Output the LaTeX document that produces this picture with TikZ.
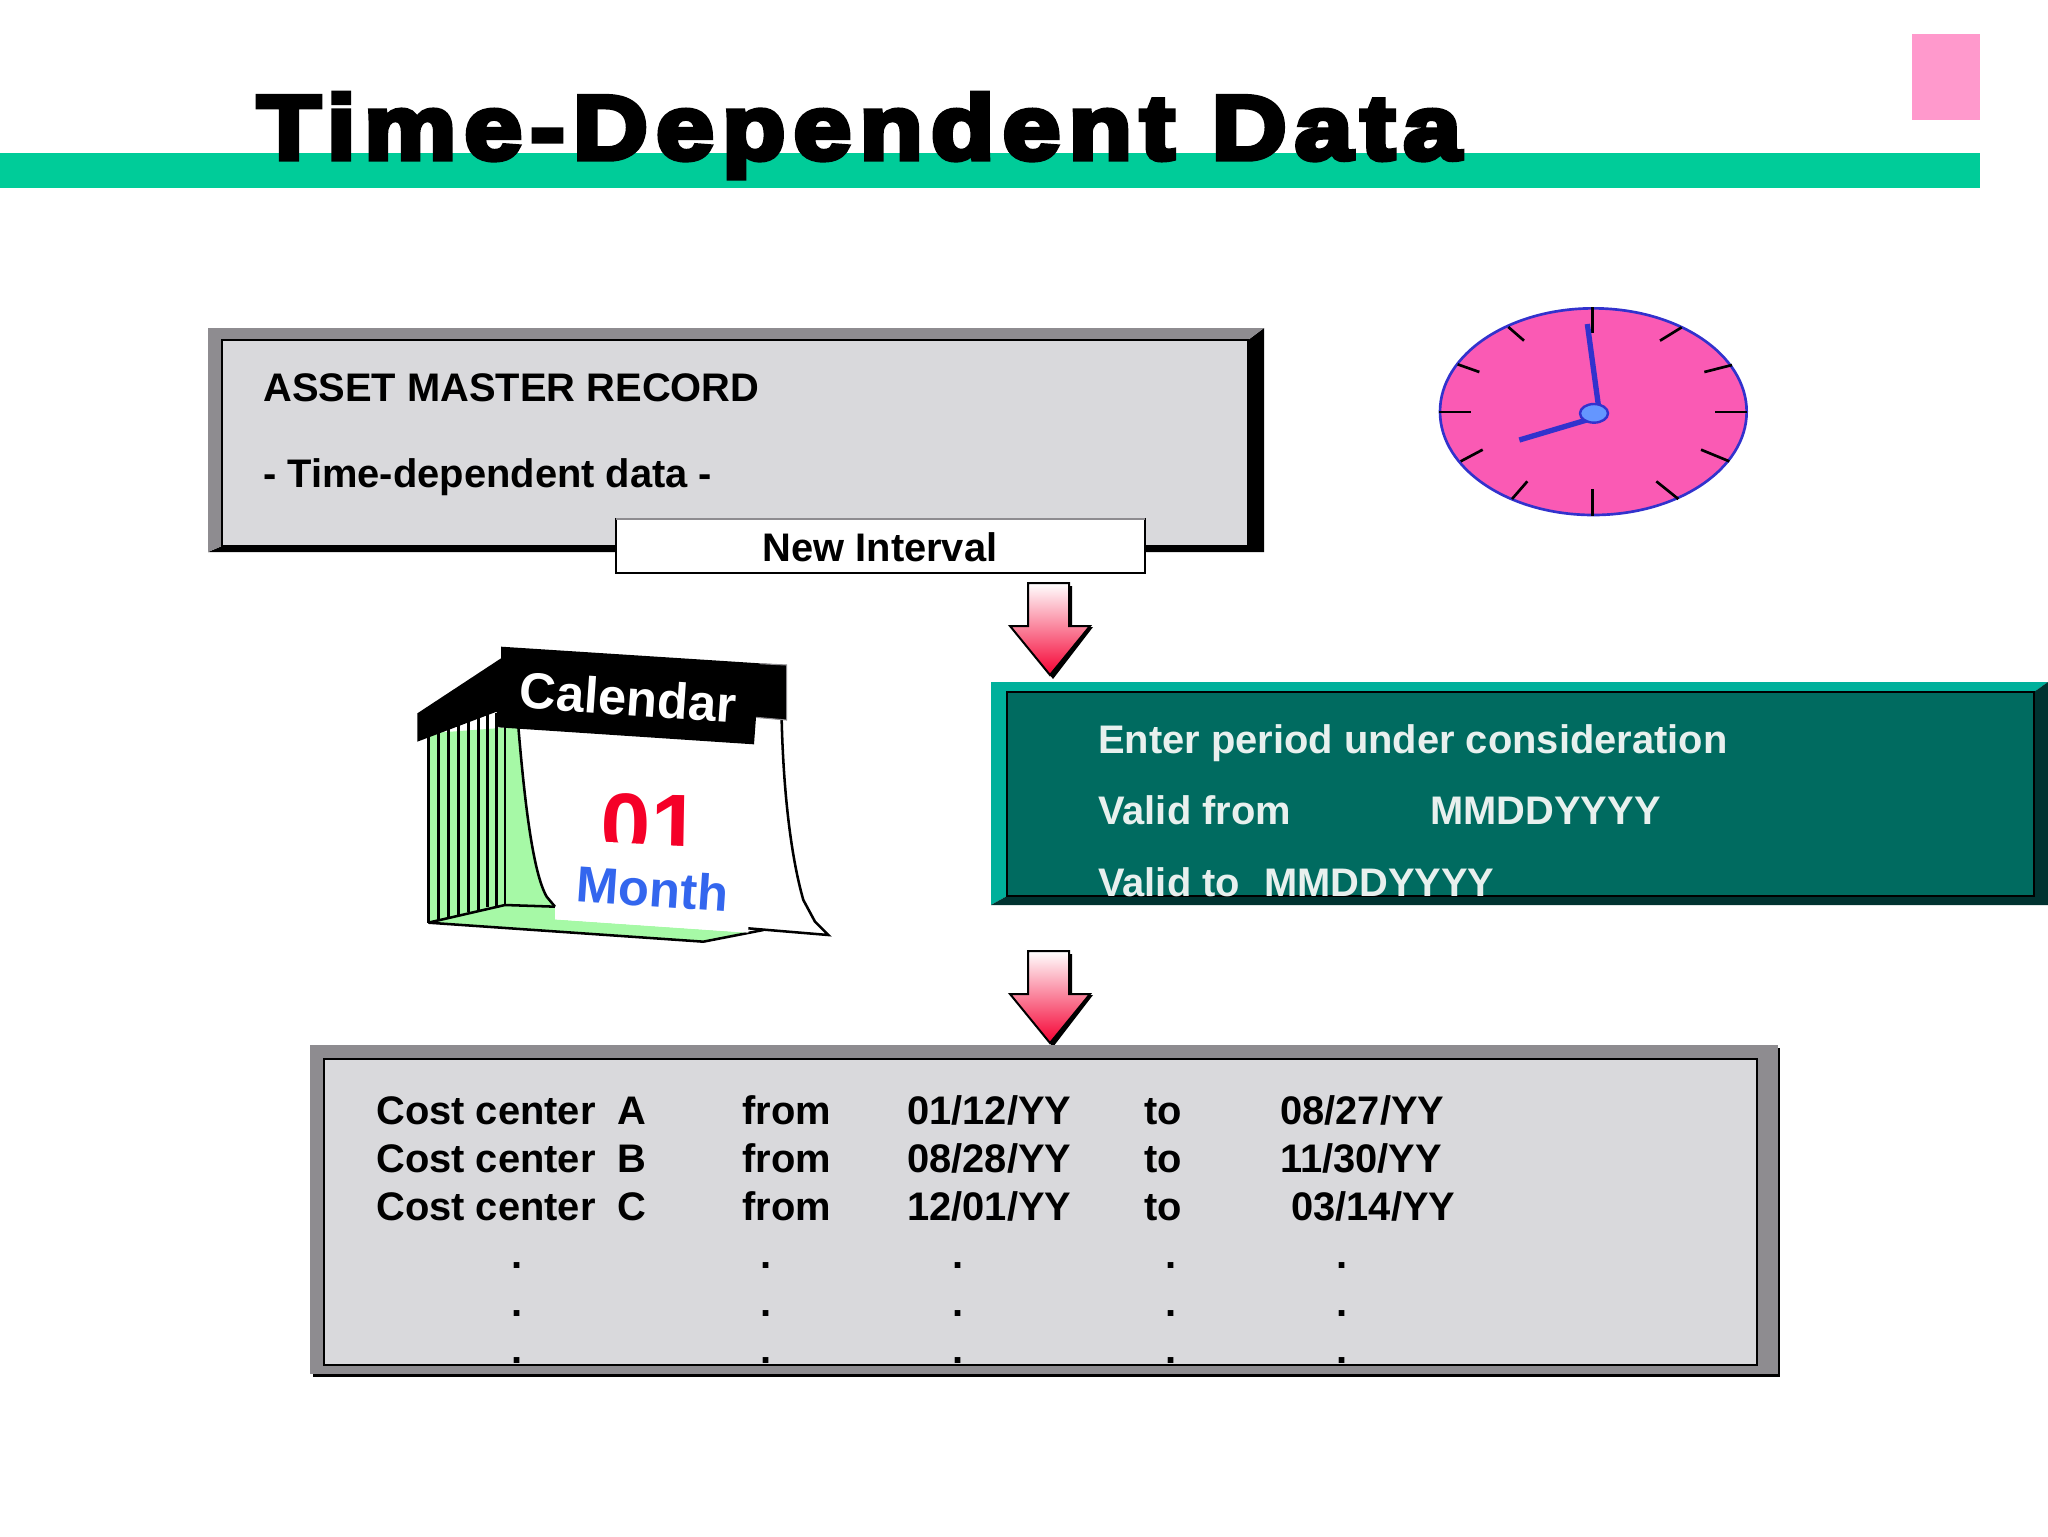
\documentclass[tikz,border=0pt]{standalone}
\usepackage{fontspec}
\setmainfont{Liberation Sans}
\newfontfamily\titlefont[FakeBold=6,FakeStretch=1.145,LetterSpace=9]{Liberation Sans Bold}
\definecolor{barGreen}{RGB}{0,204,153}
\definecolor{tabPink}{RGB}{255,153,204}
\definecolor{panelGray}{RGB}{217,217,220}
\definecolor{frameGray}{RGB}{142,140,144}
\definecolor{tealLight}{RGB}{0,176,155}
\definecolor{tealDark}{RGB}{0,107,96}
\definecolor{tealShade}{RGB}{0,50,48}
\definecolor{tealText}{RGB}{232,240,238}
\definecolor{clockPink}{RGB}{250,90,180}
\definecolor{clockBlue}{RGB}{50,50,205}
\definecolor{hubBlue}{RGB}{100,150,255}
\definecolor{pageGreen}{RGB}{166,249,166}
\definecolor{monthBlue}{RGB}{51,102,238}
\definecolor{dayRed}{RGB}{245,0,40}
\definecolor{arrowRed}{RGB}{245,0,50}
\tikzset{
  label30/.style={anchor=base west,inner sep=0pt,font=\fontsize{29.9}{36}\selectfont\bfseries},
  dotmark/.style={anchor=base,inner sep=0pt,font=\fontsize{30}{36}\selectfont\bfseries},
  tealLabel/.style={label30,text=tealText},
  tick/.style={line width=2pt,line cap=butt},
  edge/.style={line width=1.9pt},
}
\begin{document}
\begin{tikzpicture}[x=0.75pt,y=0.75pt,yscale=-1,xscale=1]
        \useasboundingbox (0,0) rectangle (2048,1536);
        %Shape: Title bar
        \fill [barGreen] (0,153) rectangle (1980,188);
        \fill [tabPink] (1912,34) rectangle (1980,120);
        % Text Node
        \draw (257,159) node (titleText) [anchor=base west,inner sep=0pt,font=\titlefont\fontsize{68}{80}\selectfont]  {Time-Dependent Data};

        %Shape: Asset master record
        \fill [black] (208,552) -- (1264,552) -- (1264,328) -- (1248,340) -- (222,546) -- cycle;
        \fill [frameGray] (208,552) -- (208,328) -- (1264,328) -- (1248,340) -- (222,340) -- (222,546) -- cycle;
        \draw [fill=panelGray,edge] (222,340) rectangle (1248,546);
        % Text Node
        \draw (263,401) node (assetText) [label30]  {ASSET MASTER RECORD};
        % Text Node
        \draw (263,487) node (timeText) [label30]  {- Time-dependent data -};
        %Shape: New interval
        \draw [fill=white,edge] (616,519) rectangle (1145,573);
        \draw [frameGray,line width=1pt] (616,519) -- (1145,519);
        % Text Node
        \draw (880,561) node (intervalText) [label30,anchor=base]  {New Interval};

        %Shape: Arrows
        \foreach \dy in {0,368} {
          \fill [black] (1031,586+\dy) -- (1072,586+\dy) -- (1072,627+\dy) -- (1093,627+\dy) -- (1053,679+\dy) -- (1013,629+\dy) -- (1031,629+\dy) -- cycle;
          \shade [top color=white,bottom color=arrowRed,draw=black,line width=1.5pt] (1028,583+\dy) -- (1069,583+\dy) -- (1069,626+\dy) -- (1090,626+\dy) -- (1050,675+\dy) -- (1010,626+\dy) -- (1028,626+\dy) -- cycle;
        }

        %Shape: Enter period
        \fill [tealLight] (991,682) -- (2048,682) -- (2034,692) -- (1007,692) -- (1007,896) -- (991,905) -- cycle;
        \fill [tealShade] (991,905) -- (2048,905) -- (2048,682) -- (2034,692) -- (2034,896) -- (1007,896) -- cycle;
        \draw [fill=tealDark,edge] (1007,692) rectangle (2034,896);
        % Text Node
        \draw (1098,753) node (enterText) [tealLabel]  {Enter period under consideration};
        % Text Node
        \draw (1098,824) node (fromText) [tealLabel]  {Valid from};
        % Text Node
        \draw (1430,824) node (fromValue) [tealLabel]  {MMDDYYYY};
        % Text Node
        \draw (1098,896) node (toText) [tealLabel]  {Valid to\ \ \hspace{1.5pt}MMDDYYYY};

        %Shape: Cost centers
        \fill [black] (313,1048) rectangle (1780,1377);
        \fill [frameGray] (310,1045) rectangle (1778,1374);
        \draw [fill=panelGray,edge] (324,1059) rectangle (1757,1365);
        \foreach \rowy/\rowname/\fromdate/\todate/\tox in {1124/A/01\slash 12\slash YY/08\slash 27\slash YY/1280,1172/B/08\slash 28\slash YY/11\slash 30\slash YY/1280,1220/C/12\slash 01\slash YY/03\slash 14\slash YY/1291} {
          % Text Node
          \draw (376,\rowy) node (cost\rowname) [label30]  {Cost center\ \ \rowname};
          \draw (742,\rowy) node (from\rowname) [label30]  {from};
          \draw (907,\rowy) node (start\rowname) [label30]  {\fromdate};
          \draw (1144,\rowy) node (to\rowname) [label30]  {to};
          \draw (\tox,\rowy) node (end\rowname) [label30]  {\todate};
        }
        \foreach \colx in {517,766,958,1171,1342} {
          \foreach \rowy in {1268,1316,1363} {
            \draw (\colx,\rowy) node (dot\colx\rowy) [dotmark]  {.};
          }
        }

        %Shape: Clock
        \begin{scope}[shift={(1420,290)},scale=1/3]
          \draw [fill=clockPink,draw=clockBlue,line width=2pt] (520,365) ellipse [x radius=460,y radius=310];
          \draw [tick] (517,52) -- (517,130);
          \draw [tick] (785,112) -- (720,152);
          \draw [tick] (936,225) -- (853,246);
          \draw [tick] (982,366) -- (886,366);
          \draw [tick] (928,514) -- (843,479);
          \draw [tick] (775,627) -- (709,574);
          \draw [tick] (517,677) -- (517,598);
          \draw [tick] (276,627) -- (322,574);
          \draw [tick] (122,514) -- (188,479);
          \draw [tick] (58,366) -- (153,366);
          \draw [tick] (113,223) -- (178,246);
          \draw [tick] (265,111) -- (312,152);
          \draw [clockBlue,line width=4pt] (502,102) -- (535,345);
          \draw [clockBlue,line width=4pt] (298,450) -- (500,390);
          \draw [fill=hubBlue,draw=clockBlue,line width=1.8pt] (522,370) ellipse [x radius=42,y radius=28];
        \end{scope}

        %Shape: Calendar
        \begin{scope}[shift={(400,620)},scale=1/3]
          \fill [pageGreen] (85,340) -- (355,320) .. controls (375,560) and (410,760) .. (465,860) -- (465,898) -- (1045,938) -- (1090,930) -- (910,965) -- (85,908) -- cycle;
          \foreach \linex/\liney in {85/908,115/900,145/893,175/886,205/877,235/870,262/862,290/857,315/855} {
            \draw [edge] (\linex,\liney) -- (\linex,280);
          }
          \draw [edge] (85,908) -- (315,855) -- (465,860);
          \draw [edge] (85,908) -- (910,965) -- (1090,930);
          \draw [fill=white,draw=none] (355,320) .. controls (375,560) and (400,760) .. (440,830) -- (465,860) -- (465,898) -- (1045,938) -- (1045,922) -- (1285,945) -- (1245,905) -- (1210,840) .. controls (1170,700) and (1150,500) .. (1145,300) -- cycle;
          \draw [edge] (355,320) .. controls (375,560) and (400,760) .. (440,830) -- (465,860);
          \draw [edge] (1045,925) -- (1285,945) -- (1245,905) -- (1210,840) .. controls (1170,700) and (1150,500) .. (1145,300);
          \fill [black] (303,80) -- (1080,130) -- (1160,135) -- (1160,300) -- (1068,292) -- (1062,373) -- (295,322) -- (290,275) -- (52,365) -- (52,280) -- (303,115) -- cycle;
          \draw [frameGray,line width=.8pt] (1080,131) -- (1160,135) -- (1160,300) -- (1068,292);
          % Text Node
          \draw (685,232) node (calendarText) [rotate=-4,text=white,inner sep=0pt,font=\fontsize{38}{44}\selectfont\bfseries]  {Calendar};
          % Text Node
          \draw (752,708) node (dayText) [rotate=-1,anchor=base,text=dayRed,inner sep=0pt,font=\fontsize{67}{72}\selectfont\bfseries]  {01};
          \fill [white] (590,664) -- (900,681) -- (900,735) -- (590,735) -- cycle;
          % Text Node
          \draw (758,805) node (monthText) [rotate=-4,text=monthBlue,inner sep=0pt,font=\fontsize{38}{44}\selectfont\bfseries]  {Month};
        \end{scope}
\end{tikzpicture}
\end{document}
